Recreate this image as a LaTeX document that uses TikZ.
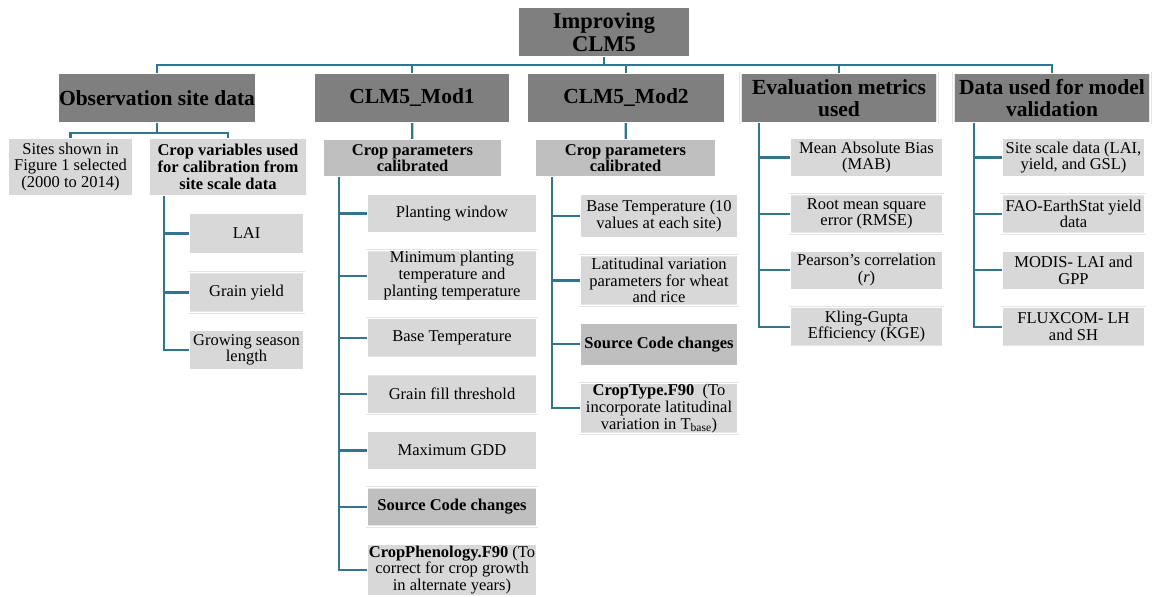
\documentclass[tikz,border=0pt]{standalone}
\usepackage{fontspec}
\setmainfont{Liberation Serif}
\usepackage{tikz}
\usetikzlibrary{positioning}
\definecolor{linkblue}{HTML}{31758E}
\definecolor{darkbox}{HTML}{7F7F7F}
\definecolor{midbox}{HTML}{BFBFBF}
\definecolor{lightbox}{HTML}{D8D8D8}
\tikzstyle{boxrim} = [draw=black!10, double=white, double distance=1.4pt, line width=0.4pt, rectangle, align=center, inner sep=1pt]
\tikzstyle{titlebox} = [boxrim, fill=darkbox, minimum width=172pt, minimum height=50pt, font=\fontsize{22.5}{23}\selectfont\bfseries]
\tikzstyle{head} = [boxrim, fill=darkbox, minimum height=50pt, font=\fontsize{21.5}{21.5}\selectfont\bfseries]
\tikzstyle{sub} = [boxrim, fill=midbox, minimum height=38pt, font=\fontsize{16.5}{16.7}\selectfont\bfseries]
\tikzstyle{leaf} = [boxrim, fill=lightbox, minimum height=39pt, font=\fontsize{16.5}{16.7}\selectfont]
\tikzstyle{leafb} = [boxrim, fill=midbox, minimum height=39pt, font=\fontsize{16.5}{16.7}\selectfont\bfseries]
\tikzstyle{link} = [draw=linkblue, line width=2.2pt]

\begin{document}
\begin{tikzpicture}[x=1pt, y=-1pt, node distance=17pt]
    \useasboundingbox (0,0) rectangle (1152,597);
    % We start by placing the top blocks
    \node [titlebox] (top) at (604,32) {Improving\\CLM5};
    \coordinate (bus) at (604,65);
    \node [head, minimum width=198pt] (obs) at (157,98) {Observation site data};
    \node [head, minimum width=196pt] (mod1) at (412,98) {CLM5\_Mod1};
    \node [head, minimum width=198pt] (mod2) at (626,98) {CLM5\_Mod2};
    \node [head, minimum width=197pt] (eval) at (839,98) {Evaluation metrics\\used};
    \node [head, minimum width=197pt] (valid) at (1052,98) {Data used for model\\validation};

    % observation site data
    \coordinate (obsbr) at (157,133);
    \node [leaf, minimum width=125pt, minimum height=58pt] (sites) at (70.5,167) {Sites shown in\\Figure 1 selected\\(2000 to 2014)};
    \node [leaf, minimum width=158pt, minimum height=58pt, font=\fontsize{16.5}{16.7}\selectfont\bfseries] (cropvar) at (228,167) {Crop variables used\\for calibration from\\site scale data};
    \node [leaf, minimum width=115pt, minimum height=41pt] (lai) at (246.5,233.5) {LAI};
    \node [leaf, minimum width=115pt, minimum height=40pt, below=18pt of lai] (yield) {Grain yield};
    \node [leaf, minimum width=115pt, minimum height=40pt, below=of yield] (gsl) {Growing season\\length};

    % CLM5_Mod1
    \node [sub, minimum width=179pt] (calib1) at (412.5,158) {Crop parameters\\calibrated};
    \node [leaf, minimum width=170pt] (pw) at (452,213.5) {Planting window};
    \node [leaf, minimum width=170pt, minimum height=49pt, below=of pw] (mpt) {Minimum planting\\temperature and\\planting temperature};
    \node [leaf, minimum width=170pt, below=of mpt] (base1) {Base Temperature};
    \node [leaf, minimum width=170pt, below=of base1] (gft) {Grain fill threshold};
    \node [leaf, minimum width=170pt, below=of gft] (gdd) {Maximum GDD};
    \node [leafb, minimum width=170pt, below=of gdd] (src1) {Source Code changes};
    \node [leaf, minimum width=170pt, minimum height=52pt, below=of src1] (pheno) {\textbf{CropPhenology.F90} (To\\correct for crop growth\\in alternate years)};

    % CLM5_Mod2
    \node [sub, minimum width=181pt] (calib2) at (625.5,158) {Crop parameters\\calibrated};
    \node [leaf, minimum width=158pt, minimum height=44pt] (base2) at (659,216) {Base Temperature (10\\values at each site)};
    \node [leaf, minimum width=158pt, minimum height=50pt, below=of base2] (lat) {Latitudinal variation\\parameters for wheat\\and rice};
    \node [leafb, minimum width=158pt, minimum height=43pt, below=of lat] (src2) {Source Code changes};
    \node [leaf, minimum width=158pt, minimum height=50pt, below=of src2] (ctype) {\textbf{CropType.F90}\ \ (To\\incorporate latitudinal\\variation in T\textsubscript{base})};

    % evaluation metrics
    \node [leaf, minimum width=153pt] (mab) at (866.5,157.5) {Mean Absolute Bias\\(MAB)};
    \node [leaf, minimum width=153pt, below=of mab] (rmse) {Root mean square\\error (RMSE)};
    \node [leaf, minimum width=153pt, below=of rmse] (pcc) {Pearson’s correlation\\(\textit{r})};
    \node [leaf, minimum width=153pt, below=of pcc] (kge) {Kling-Gupta\\Efficiency (KGE)};

    % validation data
    \node [leaf, minimum width=143pt] (site) at (1073.5,157.5) {Site scale data (LAI,\\yield, and GSL)};
    \node [leaf, minimum width=143pt, below=of site] (fao) {FAO-EarthStat yield\\data};
    \node [leaf, minimum width=143pt, below=of fao] (modis) {MODIS- LAI and\\GPP};
    \node [leaf, minimum width=143pt, below=of modis] (flux) {FLUXCOM- LH\\and SH};

    % connectors
    \draw [link] (top) -- (bus);
    \draw [link] (bus) -| (obs);
    \draw [link] (bus) -| (mod1);
    \draw [link] (bus) -| (mod2);
    \draw [link] (bus) -| (eval);
    \draw [link] (bus) -| (valid);
    \draw [link] (obs) -- (obsbr);
    \draw [link] (obsbr) -| (sites);
    \draw [link] (obsbr) -| (cropvar);
    \draw [link] (mod1) -- (calib1);
    \draw [link] (mod2) -- (calib2);
    \foreach \leafname in {lai, yield, gsl}
        \draw [link] ([xshift=15pt]cropvar.south west) |- (\leafname.west);
    \foreach \leafname in {pw, mpt, base1, gft, gdd, src1, pheno}
        \draw [link] ([xshift=16pt]calib1.south west) |- (\leafname.west);
    \foreach \leafname in {base2, lat, src2, ctype}
        \draw [link] ([xshift=17pt]calib2.south west) |- (\leafname.west);
    \foreach \leafname in {mab, rmse, pcc, kge}
        \draw [link] ([xshift=19pt]eval.south west) |- (\leafname.west);
    \foreach \leafname in {site, fao, modis, flux}
        \draw [link] ([xshift=21pt]valid.south west) |- (\leafname.west);
\end{tikzpicture}
\end{document}
